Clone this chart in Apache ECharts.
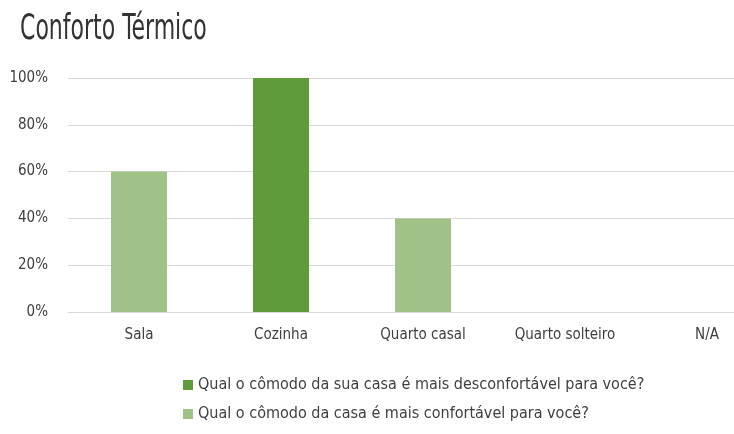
<!DOCTYPE html>
<html><head><meta charset="utf-8">
<script src="https://cdn.jsdelivr.net/npm/echarts@6/dist/echarts.min.js"></script>
<style>html,body{margin:0;padding:0;background:#fff;overflow:hidden}#c{width:800px;height:434px}</style>
</head><body><div id="c"></div>
<script>
var categories = ["Sala", "Cozinha", "Quarto casal", "Quarto solteiro", "N/A"];
var seriesNames = ["Qual o cômodo da sua casa é mais desconfortável para você?", "Qual o cômodo da casa é mais confortável para você?"];
var desconfortavel = [0, 100, 0, 0, 0];
var confortavel = [60, 0, 40, 0, 0];
var yTicks = [0, 20, 40, 60, 80, 100];

var FONT = "'Liberation Sans Narrow','DejaVu Sans Condensed',sans-serif";
var chart = echarts.init(document.getElementById('c'));
chart.setOption({
  animation: false,
  backgroundColor: '#ffffff',
  graphic: [{
    type: 'text', left: 20, top: 12, scaleX: 0.68, scaleY: 1,
    style: {text: 'Conforto Térmico', font: "36px " + FONT, fill: '#333333'}
  }],
  legend: {
    orient: 'vertical', left: 178, top: 372, itemGap: 13,
    itemWidth: 10, itemHeight: 10, icon: 'rect',
    textStyle: {fontFamily: FONT, fontSize: 16, color: '#404040'},
    data: seriesNames
  },
  grid: {left: 68, top: 78, width: 710, height: 234, containLabel: false},
  xAxis: {
    type: 'category', data: categories,
    axisLine: {lineStyle: {color: '#d9d9d9'}},
    axisTick: {show: false},
    axisLabel: {fontFamily: FONT, fontSize: 15, color: '#404040', margin: 16}
  },
  yAxis: {
    type: 'value', min: 0, max: 100, interval: 20,
    axisLine: {show: false}, axisTick: {show: false},
    splitLine: {lineStyle: {color: '#d9d9d9'}},
    axisLabel: {fontFamily: FONT, fontSize: 15, color: '#404040', margin: 20,
      formatter: function (v) { return yTicks.indexOf(v) >= 0 ? v + '%' : ''; }}
  },
  series: [
    {name: seriesNames[0], type: 'bar', stack: 's', data: desconfortavel, barWidth: 56,
     itemStyle: {color: '#5f9a3b'}},
    {name: seriesNames[1], type: 'bar', stack: 's', data: confortavel, barWidth: 56,
     itemStyle: {color: '#9fc287'}}
  ]
});
</script></body></html>
